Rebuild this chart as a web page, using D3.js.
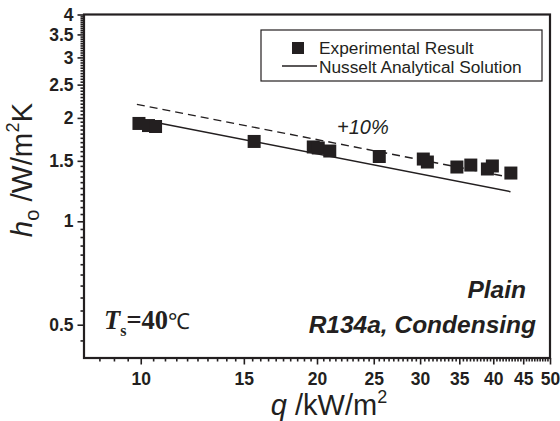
<!DOCTYPE html>
<html>
<head>
<meta charset="utf-8">
<script src="https://cdn.jsdelivr.net/npm/d3@7/dist/d3.min.js"></script>
<style>
  html, body { margin: 0; padding: 0; background: #fff; }
  svg { display: block; }
</style>
</head>
<body>
<svg id="chart" width="560" height="421"></svg>
<script>
// ---- data ----
const expQ = [9.93, 10.31, 10.60, 15.62, 19.71, 20.10, 21.03, 25.55, 30.38, 30.87, 34.67, 36.62, 39.09, 39.86, 42.87];
const expH = [1.927, 1.900, 1.888, 1.708, 1.646, 1.635, 1.602, 1.544, 1.518, 1.488, 1.439, 1.458, 1.420, 1.449, 1.382];
const nusseltQ = [9.85, 42.8];
const nusseltH = [1.99, 1.22];
const plus10H = [2.19, 1.342];
const xMajorTicks = [10, 15, 20, 25, 30, 35, 40, 45, 50];
const yMajorTicks = [0.5, 1, 1.5, 2, 2.5, 3, 3.5, 4];
const xMinorTicks = d3.range(8, 50.001, 0.5).map(v => +v.toFixed(2));
const yMinorTicks = d3.range(0.4, 4.0001, 0.05).map(v => +v.toFixed(2));
const legendLabels = ["Experimental Result", "Nusselt Analytical Solution"];

// ---- layout ----
const ink = "#231f20";
const sans = "'Liberation Sans', Arial, Helvetica, sans-serif";
const serif = "'Liberation Serif', 'Times New Roman', serif";
const L = 84, R = 550, T = 14.5, B = 358;

const svg = d3.select("#chart");
const x = d3.scaleLog().domain([8, 50]).range([L, R]);
const y = d3.scaleLog().domain([0.4, 4]).range([B, T]);

// minor ticks
const xMinor = svg.append("g").attr("transform", `translate(0,${B})`)
  .call(d3.axisBottom(x).tickValues(xMinorTicks.filter(v => !xMajorTicks.includes(v) && v > 8)).tickSize(3.5).tickFormat(""));
const yMinor = svg.append("g").attr("transform", `translate(${L},0)`)
  .call(d3.axisLeft(y).tickValues(yMinorTicks.filter(v => !yMajorTicks.includes(v) && v > 0.4)).tickSize(3.5).tickFormat(""));
// major ticks
const xMajor = svg.append("g").attr("transform", `translate(0,${B})`)
  .call(d3.axisBottom(x).tickValues(xMajorTicks).tickSize(6.5).tickPadding(8).tickFormat(d => d));
const yMajor = svg.append("g").attr("transform", `translate(${L},0)`)
  .call(d3.axisLeft(y).tickValues(yMajorTicks).tickSize(6.5).tickPadding(4).tickFormat(d => d));

[xMinor, yMinor, xMajor, yMajor].forEach(g => {
  g.select(".domain").remove();
  g.selectAll(".tick line").attr("stroke", ink).attr("stroke-width", 1.6);
  g.selectAll(".tick text").attr("fill", ink).attr("font-family", sans)
    .attr("font-weight", "bold").attr("font-size", 17.5);
});

// frame
svg.append("rect").attr("x", L).attr("y", T).attr("width", R - L).attr("height", B - T)
  .attr("fill", "none").attr("stroke", ink).attr("stroke-width", 2.2);

// lines
const line = d3.line().x(d => x(d[0])).y(d => y(d[1]));
svg.append("path").datum(d3.zip(nusseltQ, nusseltH)).attr("d", line)
  .attr("fill", "none").attr("stroke", ink).attr("stroke-width", 1.5);
svg.append("path").datum(d3.zip(nusseltQ, plus10H)).attr("d", line)
  .attr("fill", "none").attr("stroke", ink).attr("stroke-width", 1.4).attr("stroke-dasharray", "8,5");

// experimental points
const sz = 13;
svg.append("g").selectAll("rect").data(d3.zip(expQ, expH)).join("rect")
  .attr("x", d => x(d[0]) - sz / 2).attr("y", d => y(d[1]) - sz / 2)
  .attr("width", sz).attr("height", sz).attr("fill", ink);

// legend
svg.append("rect").attr("x", 261).attr("y", 30).attr("width", 281).attr("height", 51)
  .attr("fill", "#fff").attr("stroke", ink).attr("stroke-width", 1.2);
svg.append("rect").attr("x", 292).attr("y", 42).attr("width", 12).attr("height", 12).attr("fill", ink);
svg.append("line").attr("x1", 282).attr("x2", 317).attr("y1", 66).attr("y2", 66)
  .attr("stroke", ink).attr("stroke-width", 1.3);
svg.selectAll("text.leg").data(legendLabels).join("text").attr("class", "leg")
  .attr("x", 319).attr("y", (d, i) => 54 + i * 18.5)
  .attr("font-family", sans).attr("font-size", 17.3).attr("fill", ink).text(d => d);

// annotations
svg.append("text").attr("x", 337).attr("y", 134).attr("font-family", sans)
  .attr("font-style", "italic").attr("font-size", 20).attr("fill", ink).text("+10%");
svg.append("text").attr("x", 526).attr("y", 298).attr("text-anchor", "end").attr("font-family", sans)
  .attr("font-style", "italic").attr("font-weight", "bold").attr("font-size", 24.5).attr("fill", ink).text("Plain");
svg.append("text").attr("x", 536).attr("y", 333).attr("text-anchor", "end").attr("font-family", sans)
  .attr("font-style", "italic").attr("font-weight", "bold").attr("font-size", 24.5).attr("fill", ink).text("R134a, Condensing");

const ts = svg.append("text").attr("x", 104).attr("y", 329).attr("font-family", serif)
  .attr("font-weight", "bold").attr("font-size", 26.5).attr("fill", ink);
ts.append("tspan").attr("font-style", "italic").text("T");
ts.append("tspan").attr("font-size", 16).attr("dy", 7).text("s");
ts.append("tspan").attr("dy", -7).text("=40");
ts.append("tspan").attr("font-weight", "normal").attr("font-size", 22).text("℃");

// axis titles
const xt = svg.append("text").attr("x", 329).attr("y", 415).attr("text-anchor", "middle")
  .attr("font-family", sans).attr("font-size", 29).attr("fill", ink);
xt.append("tspan").attr("font-style", "italic").text("q");
xt.append("tspan").text(" /kW/m");
xt.append("tspan").attr("font-size", 18).attr("dy", -12).text("2");

const yt = svg.append("text").attr("transform", "translate(32,170) rotate(-90)").attr("text-anchor", "middle")
  .attr("font-family", sans).attr("font-size", 29.5).attr("fill", ink);
yt.append("tspan").attr("font-style", "italic").text("h");
yt.append("tspan").attr("font-size", 20).attr("dy", 7).text("o");
yt.append("tspan").attr("dy", -7).text(" /W/m");
yt.append("tspan").attr("font-size", 18).attr("dy", -13).text("2");
yt.append("tspan").attr("dy", 13).text("K");
</script>
</body>
</html>
